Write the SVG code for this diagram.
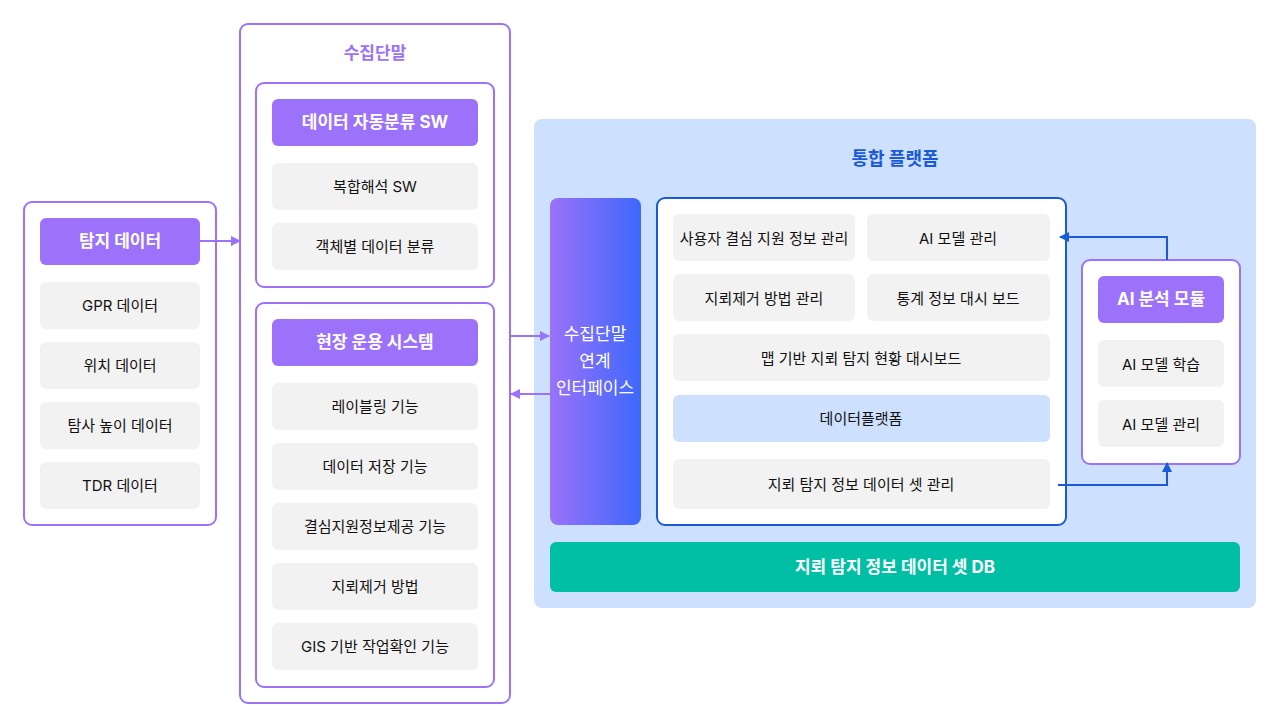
<svg xmlns="http://www.w3.org/2000/svg" width="1280" height="727" viewBox="0 0 1280 727">
<style>
text{font-family:"Inter","Noto Sans CJK KR",sans-serif;text-anchor:middle;dominant-baseline:central}
.item{fill:#f2f2f2}
.it{font-size:15px;fill:#111}
.hd{fill:#9b72f9}
.ht{font-size:17px;font-weight:bold;fill:#fff}
.box{fill:#fff;stroke:#9b72f9;stroke-width:2}
.pl{stroke:#9b72f9;stroke-width:2;fill:none}
.bl{stroke:#1a5ad7;stroke-width:2;fill:none}
</style>
<defs>
<linearGradient id="g" x1="0" x2="1"><stop offset="0" stop-color="#9b72f9"/><stop offset="1" stop-color="#3d68fb"/></linearGradient>
<marker id="ap" markerWidth="10" markerHeight="10" refX="9" refY="5" orient="auto" markerUnits="userSpaceOnUse"><path d="M0,0L10,5L0,10z" fill="#9b72f9"/></marker>
<marker id="ab" markerWidth="10" markerHeight="10" refX="9" refY="5" orient="auto" markerUnits="userSpaceOnUse"><path d="M0,0L10,5L0,10z" fill="#1a5ad7"/></marker>
</defs>
<rect width="1280" height="727" fill="#fff"/>
<g id="detect">
<rect class="box" x="24" y="202" width="192" height="323" rx="8"/>
<rect class="hd" x="40" y="218" width="160" height="47" rx="6"/><text class="ht" x="120" y="241">탐지 데이터</text>
<rect class="item" x="40" y="282" width="160" height="47" rx="6"/><text class="it" x="120" y="305">GPR 데이터</text>
<rect class="item" x="40" y="342" width="160" height="47" rx="6"/><text class="it" x="120" y="365">위치 데이터</text>
<rect class="item" x="40" y="402" width="160" height="47" rx="6"/><text class="it" x="120" y="425">탐사 높이 데이터</text>
<rect class="item" x="40" y="462" width="160" height="47" rx="6"/><text class="it" x="120" y="485">TDR 데이터</text>
</g>
<g id="terminal">
<rect class="box" x="240" y="24" width="270" height="679" rx="8"/>
<text x="375" y="53" style="font-size:17px;font-weight:bold;fill:#9b72f9">수집단말</text>
<rect class="box" x="256" y="83" width="238" height="204" rx="8"/>
<rect class="hd" x="272" y="99" width="206" height="47" rx="6"/><text class="ht" x="375" y="122">데이터 자동분류 SW</text>
<rect class="item" x="272" y="163" width="206" height="47" rx="6"/><text class="it" x="375" y="186">복합해석 SW</text>
<rect class="item" x="272" y="223" width="206" height="47" rx="6"/><text class="it" x="375" y="246">객체별 데이터 분류</text>
<rect class="box" x="256" y="303" width="238" height="384" rx="8"/>
<rect class="hd" x="272" y="319" width="206" height="47" rx="6"/><text class="ht" x="375" y="342">현장 운용 시스템</text>
<rect class="item" x="272" y="383" width="206" height="47" rx="6"/><text class="it" x="375" y="406">레이블링 기능</text>
<rect class="item" x="272" y="443" width="206" height="47" rx="6"/><text class="it" x="375" y="466">데이터 저장 기능</text>
<rect class="item" x="272" y="503" width="206" height="47" rx="6"/><text class="it" x="375" y="526">결심지원정보제공 기능</text>
<rect class="item" x="272" y="563" width="206" height="47" rx="6"/><text class="it" x="375" y="586">지뢰제거 방법</text>
<rect class="item" x="272" y="623" width="206" height="47" rx="6"/><text class="it" x="375" y="646">GIS 기반 작업확인 기능</text>
</g>
<g id="platform">
<rect x="534" y="119" width="722" height="489" rx="8" fill="#cde0fd"/>
<text x="895" y="158" style="font-size:18px;font-weight:bold;fill:#1a5ad7">통합 플랫폼</text>
<rect x="550" y="198" width="91" height="327" rx="8" fill="url(#g)"/>
<text x="595" y="334" style="font-size:17px;fill:#fff">수집단말</text>
<text x="595" y="361" style="font-size:17px;fill:#fff">연계</text>
<text x="595" y="388" style="font-size:17px;fill:#fff">인터페이스</text>
<rect x="657" y="198" width="409" height="327" rx="8" fill="#fff" stroke="#1a5ad7" stroke-width="2"/>
<rect class="item" x="673" y="214" width="182" height="47" rx="6"/><text class="it" x="764" y="238">사용자 결심 지원 정보 관리</text>
<rect class="item" x="867" y="214" width="183" height="47" rx="6"/><text class="it" x="958" y="238">AI 모델 관리</text>
<rect class="item" x="673" y="274" width="182" height="47" rx="6"/><text class="it" x="764" y="298">지뢰제거 방법 관리</text>
<rect class="item" x="867" y="274" width="183" height="47" rx="6"/><text class="it" x="958" y="298">통계 정보 대시 보드</text>
<rect class="item" x="673" y="334" width="377" height="47" rx="6"/><text class="it" x="861" y="358">맵 기반 지뢰 탐지 현황 대시보드</text>
<rect x="673" y="395" width="377" height="47" rx="6" fill="#cde0fd"/><text class="it" x="861" y="418">데이터플랫폼</text>
<rect class="item" x="673" y="459" width="377" height="50" rx="6"/><text class="it" x="861" y="484">지뢰 탐지 정보 데이터 셋 관리</text>
<rect x="550" y="542" width="690" height="50" rx="6" fill="#00bfa5"/>
<text x="895" y="567" style="font-size:17px;font-weight:bold;fill:#fff">지뢰 탐지 정보 데이터 셋 DB</text>
</g>
<g id="ai">
<rect class="box" x="1082" y="260" width="158" height="204" rx="8"/>
<rect class="hd" x="1098" y="276" width="126" height="47" rx="6"/><text class="ht" x="1161" y="299">AI 분석 모듈</text>
<rect class="item" x="1098" y="340" width="126" height="47" rx="6"/><text class="it" x="1161" y="364">AI 모델 학습</text>
<rect class="item" x="1098" y="400" width="126" height="47" rx="6"/><text class="it" x="1161" y="424">AI 모델 관리</text>
</g>
<g id="connectors">
<path class="pl" d="M200,241H240" marker-end="url(#ap)"/>
<path class="pl" d="M510,336H549" marker-end="url(#ap)"/>
<path class="pl" d="M550,394H511" marker-end="url(#ap)"/>
<path class="bl" d="M1167,260V237H1060" marker-end="url(#ab)"/>
<path class="bl" d="M1058,485H1167V463" marker-end="url(#ab)"/>
</g>
</svg>
